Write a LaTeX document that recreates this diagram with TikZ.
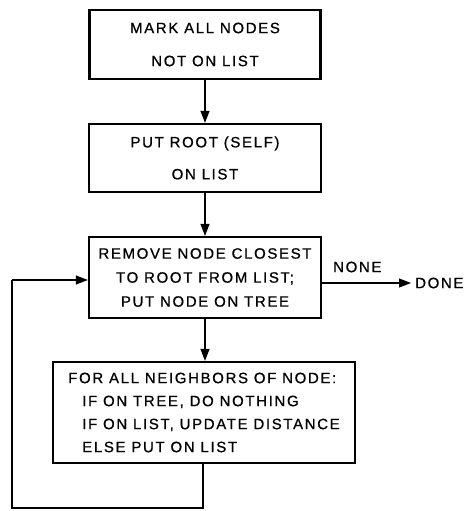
\documentclass[tikz,border=0pt]{standalone}
\usepackage{fontspec}
\setmainfont{Liberation Sans}[LetterSpace=11,FakeBold=0.8]
\usetikzlibrary{arrows.meta}
\begin{document}
\begin{tikzpicture}[x=1pt,y=-1pt,
  box/.style={draw,line width=2.3pt,rectangle,inner sep=0pt,align=center},
  flow/.style={line width=1.2pt,-{Triangle[length=12pt,width=9pt]}},
  plain/.style={line width=1.2pt},
  lbl/.style={inner sep=0pt,font=\fontsize{15}{16}\selectfont}]
\useasboundingbox (0,0) rectangle (470,511);
\node[box,minimum width=231pt,minimum height=69pt,font=\fontsize{15}{33}\selectfont] (b1) at (205,44.5) {MARK ALL NODES\\NOT ON LIST};
\node[box,minimum width=232pt,minimum height=68pt,font=\fontsize{15}{32}\selectfont] (b2) at (205,158) {PUT ROOT (SELF)\\ON LIST};
\node[box,minimum width=232pt,minimum height=81pt,font=\fontsize{15}{24}\selectfont] (b3) at (205,277.5) {REMOVE NODE CLOSEST\\TO ROOT FROM LIST;\\PUT NODE ON TREE};
\node[box,align=left,minimum width=302pt,minimum height=101pt,font=\fontsize{15}{23}\selectfont] (b4) at (204,412.5) {FOR ALL NEIGHBORS OF NODE:\\\hspace*{14pt}IF ON TREE, DO NOTHING\\\hspace*{14pt}IF ON LIST, UPDATE DISTANCE\\\hspace*{14pt}ELSE PUT ON LIST};
\node[lbl,anchor=west] (none) at (333,267) {NONE};
\node[lbl,anchor=west] (done) at (415,283) {DONE};
\coordinate (c1) at (203,508);
\coordinate (c2) at (12,508);
\coordinate (c3) at (12,280);
\draw[flow] (b1) -- (b2);
\draw[flow] (b2) -- (b3);
\draw[flow] (b3) -- (b4.north -| b3.south);
\draw[flow,shorten >=4pt] (b3.east |- done.west) -- (done.west);
\draw[plain] (b4.south -| c1) -- (c1) -- (c2) -- (c3);
\draw[flow] (c3) -- (b3.west |- c3);
\end{tikzpicture}
\end{document}
